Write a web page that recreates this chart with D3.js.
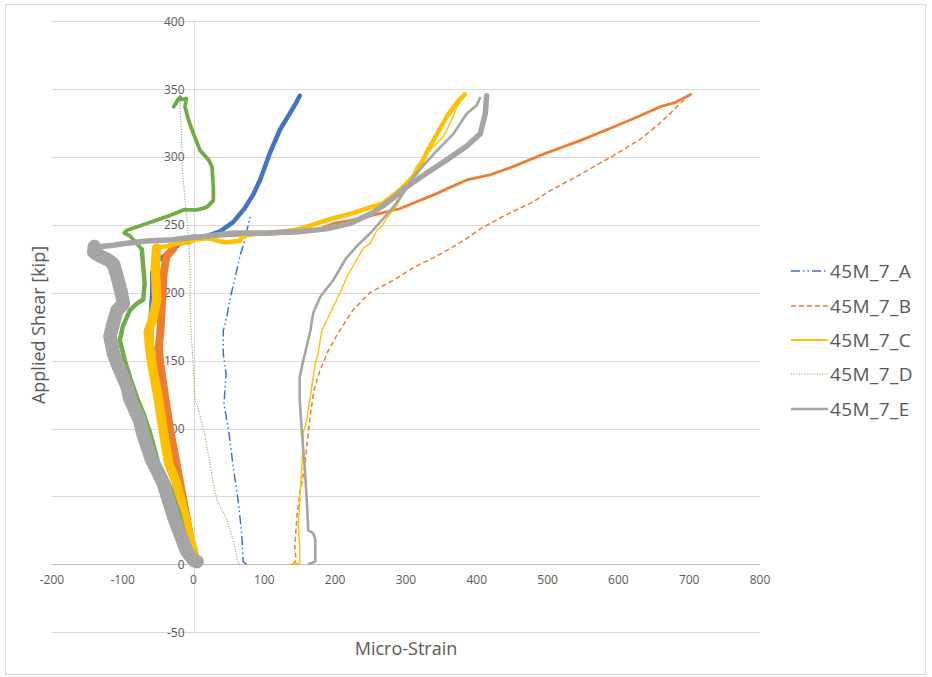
<!DOCTYPE html>
<html>
<head>
<meta charset="utf-8">
<script src="https://cdn.jsdelivr.net/npm/d3@7"></script>
<style>
  html, body { margin: 0; padding: 0; background: #fff; }
  svg { display: block; }
  text { font-family: "Open Sans", "Noto Sans", sans-serif; fill: #595959; }
</style>
</head>
<body>
<svg id="chart" width="932" height="677"></svg>
<script>
// ---------------- DATA ([micro-strain, applied shear kip]) ----------------
const seriesNames = ["45M_7_A", "45M_7_B", "45M_7_C", "45M_7_D", "45M_7_E"];
const xTicks = [-200, -100, 0, 100, 200, 300, 400, 500, 600, 700, 800];
const yTicks = [-50, 0, 50, 100, 150, 200, 250, 300, 350, 400];

// 45M_7_A
const aLoad = [[75,0],[70,2],[68,23],[63,47],[56,72],[50,97],[43,118],[46,140],[42,155],[42,172],[47,182],[51,194],[60,214],[66,228],[71,236],[75,245],[80,256]];
const aPeak = [[150,345],[145,340],[136,332],[122,320],[108,303],[94,283],[84,272],[72,262],[56,252],[37,245],[20,242],[0,240],[-20,236],[-35,229]];
const aReturn = [[-35,229],[-50,224],[-58,215],[-58,200],[-60,183],[-60,165],[-55,145],[-45,120],[-38,100],[-28,70],[-18,40],[-8,15],[0,2]];
// 45M_7_B
const bLoad = [[140,0],[145,3],[143,13],[146,35],[150,52],[157,72],[162,96],[165,110],[170,128],[178,142],[190,157],[205,171],[225,187],[249,200],[285,210],[312,219],[340,226],[364,233],[386,240],[405,247],[433,255],[452,260],[480,267],[500,274],[546,287],[593,301],[631,313],[659,325],[683,337],[697,344],[702,346]];
const bPeak = [[702,346],[680,340],[659,337],[625,329],[593,322],[546,312],[499,303],[452,293],[420,287],[386,283],[360,277],[339,272],[315,267],[292,262],[268,259],[245,256],[220,253],[197,251],[174,246],[150,244],[100,243],[50,242],[9,241],[-5,238],[-19,237],[-29,232]];
const bReturn = [[-29,232],[-38,227],[-42,215],[-43,207],[-45,187],[-47,170],[-49,160],[-47,148],[-40,123],[-33,99],[-24,74],[-19,60],[-10,35],[-3,15],[2,5],[3,1]];
// 45M_7_C
const cLoad = [[136,0],[150,1],[150,13],[148,28],[150,47],[153,72],[155,97],[160,106],[167,131],[172,148],[176,155],[181,172],[193,185],[207,200],[216,211],[230,224],[240,233],[249,236],[259,246],[266,249],[273,255],[287,264],[301,278],[315,293],[334,305],[353,315],[367,330],[372,337],[381,344]];
const cPeak = [[383,346],[372,340],[358,330],[344,317],[329,303],[315,288],[292,276],[268,266],[245,262],[221,258],[198,255],[174,251],[150,247],[127,245],[100,244],[70,242],[65,238],[45,237],[20,240],[0,239],[-5,237],[-23,236],[-40,234],[-52,233]];
const cReturn = [[-52,233],[-54,219],[-52,195],[-57,182],[-64,171],[-62,160],[-59,148],[-50,123],[-43,99],[-35,74],[-24,60],[-12,35],[-5,18],[0,10],[2,4]];
// 45M_7_D
const dLoad = [[65,0],[63,1],[56,18],[47,33],[33,47],[28,60],[23,75],[16,95],[7,114],[2,121],[0,143],[-3,168],[-5,192],[-5,217],[-7,241],[-10,258],[-12,268],[-16,292],[-17,317],[-19,334],[-19,342]];
const dPeak = [[-19,344],[-28,337],[-22,342],[-10,343],[-12,337],[-7,327],[0,317],[9,305],[21,298],[26,293],[28,278],[28,268],[19,263],[5,261],[-14,261],[-38,256],[-66,251],[-94,246],[-98,244],[-90,242],[-80,236],[-73,232]];
const dReturn = [[-73,232],[-71,219],[-69,207],[-71,195],[-80,192],[-90,187],[-100,175],[-104,165],[-97,150],[-88,135],[-80,123],[-70,110],[-62,98],[-50,75],[-33,57],[-19,35],[-8,12],[-3,3],[0,0]];
// 45M_7_E
const eLoad = [[162,0],[172,2],[172,18],[169,23],[162,25],[160,47],[157,72],[153,97],[150,121],[150,138],[155,150],[165,172],[169,185],[179,197],[197,209],[215,225],[232,235],[250,244],[262,251],[282,263],[296,273],[310,285],[339,302],[367,317],[386,332],[400,338],[405,344]];
const ePeak = [[414,345],[412,332],[405,317],[386,308],[358,298],[329,288],[301,278],[278,268],[254,259],[221,251],[188,247],[150,245],[103,244],[56,244],[9,241],[0,241],[-30,239],[-66,238],[-100,236],[-113,235],[-130,234],[-140,234]];
const eReturn = [[-140,234],[-141,230],[-132,227],[-120,224],[-113,221],[-108,212],[-102,200],[-99,192],[-108,187],[-113,178],[-118,168],[-113,155],[-108,148],[-94,131],[-90,122],[-76,106],[-72,97],[-60,78],[-43,60],[-28,35],[-10,10],[0,3],[5,2]];

// ---------------- STYLES ----------------
const colors = ["#4472C4", "#ED7D31", "#FFC000", "#70AD47", "#A5A5A5"];
const loadDash = ["9,3,1.5,3,1.5,3", "5,3", null, "1,1.6", null];
const loadWidth = [1.5, 1.5, 1.4, 1.1, 2.6];
const peakWidth = [4.5, 2.8, 4.5, 3.8, 5.5];
const returnWidth = [5, 8, 9.5, 4.5, 13.5];

const series = [
  {load: aLoad, peak: aPeak, ret: aReturn},
  {load: bLoad, peak: bPeak, ret: bReturn},
  {load: cLoad, peak: cPeak, ret: cReturn},
  {load: dLoad, peak: dPeak, ret: dReturn},
  {load: eLoad, peak: ePeak, ret: eReturn}
];

// ---------------- CHART ----------------
const svg = d3.select("#chart");
svg.append("rect").attr("x", 5.5).attr("y", 4.5).attr("width", 920).attr("height", 670)
  .attr("fill", "#fff").attr("stroke", "#D9D9D9");

const x = d3.scaleLinear().domain([-200, 800]).range([51.9, 760]);
const y = d3.scaleLinear().domain([-50, 400]).range([632.2, 21.1]);

// horizontal gridlines
svg.append("g").selectAll("line").data(yTicks.filter(d => d !== 0)).join("line")
  .attr("x1", x(-200)).attr("x2", x(800))
  .attr("y1", d => Math.round(y(d)) + 0.5).attr("y2", d => Math.round(y(d)) + 0.5)
  .attr("stroke", "#D9D9D9").attr("stroke-width", 1);

// vertical axis line at x = 0
svg.append("line")
  .attr("x1", Math.round(x(0)) + 0.5).attr("x2", Math.round(x(0)) + 0.5)
  .attr("y1", y(400)).attr("y2", y(-50))
  .attr("stroke", "#D9D9D9").attr("stroke-width", 1);

// horizontal axis line at y = 0
svg.append("line")
  .attr("x1", x(-200)).attr("x2", x(800))
  .attr("y1", Math.round(y(0)) + 0.5).attr("y2", Math.round(y(0)) + 0.5)
  .attr("stroke", "#BFBFBF").attr("stroke-width", 1);

// tick labels
svg.append("g").selectAll("text").data(yTicks).join("text")
  .attr("x", x(0) - 9).attr("y", d => y(d)).attr("text-anchor", "end")
  .attr("dominant-baseline", "central").attr("font-size", 12).text(d => d);
svg.append("g").selectAll("text").data(xTicks).join("text")
  .attr("x", d => x(d)).attr("y", y(0) + 15).attr("text-anchor", "middle")
  .attr("dominant-baseline", "central").attr("font-size", 12).text(d => d);

// series
const line = d3.line().x(d => x(d[0])).y(d => y(d[1]));
const g = svg.append("g");
series.forEach((s, i) => {
  const ls = g.append("path").attr("d", line(s.load)).attr("fill", "none")
    .attr("stroke", colors[i]).attr("stroke-width", loadWidth[i])
    .attr("stroke-linejoin", "round");
  if (loadDash[i]) ls.attr("stroke-dasharray", loadDash[i]);
  g.append("path").attr("d", line(s.peak)).attr("fill", "none")
    .attr("stroke", colors[i]).attr("stroke-width", peakWidth[i])
    .attr("stroke-linejoin", "round").attr("stroke-linecap", "round");
  g.append("path").attr("d", line(s.ret)).attr("fill", "none")
    .attr("stroke", colors[i]).attr("stroke-width", returnWidth[i])
    .attr("stroke-linejoin", "round").attr("stroke-linecap", "round");
});

// axis titles
svg.append("text").attr("transform", "translate(38,325) rotate(-90)")
  .attr("text-anchor", "middle").attr("dominant-baseline", "central")
  .attr("font-size", 18).text("Applied Shear [kip]");
svg.append("text").attr("x", 406).attr("y", 648)
  .attr("text-anchor", "middle").attr("dominant-baseline", "central")
  .attr("font-size", 18).text("Micro-Strain");

// legend
const legendY = [271, 306, 340, 374, 409];
const legendWidth = [1.5, 1.5, 2, 1.1, 2.5];
const lg = svg.append("g");
seriesNames.forEach((name, i) => {
  const l = lg.append("line").attr("x1", 791).attr("x2", 828)
    .attr("y1", legendY[i]).attr("y2", legendY[i])
    .attr("stroke", colors[i]).attr("stroke-width", legendWidth[i]);
  if (loadDash[i]) l.attr("stroke-dasharray", loadDash[i]);
  lg.append("text").attr("x", 830).attr("y", legendY[i])
    .attr("dominant-baseline", "central").attr("font-size", 19)
    .attr("letter-spacing", 0.4).text(name);
});
</script>
</body>
</html>
